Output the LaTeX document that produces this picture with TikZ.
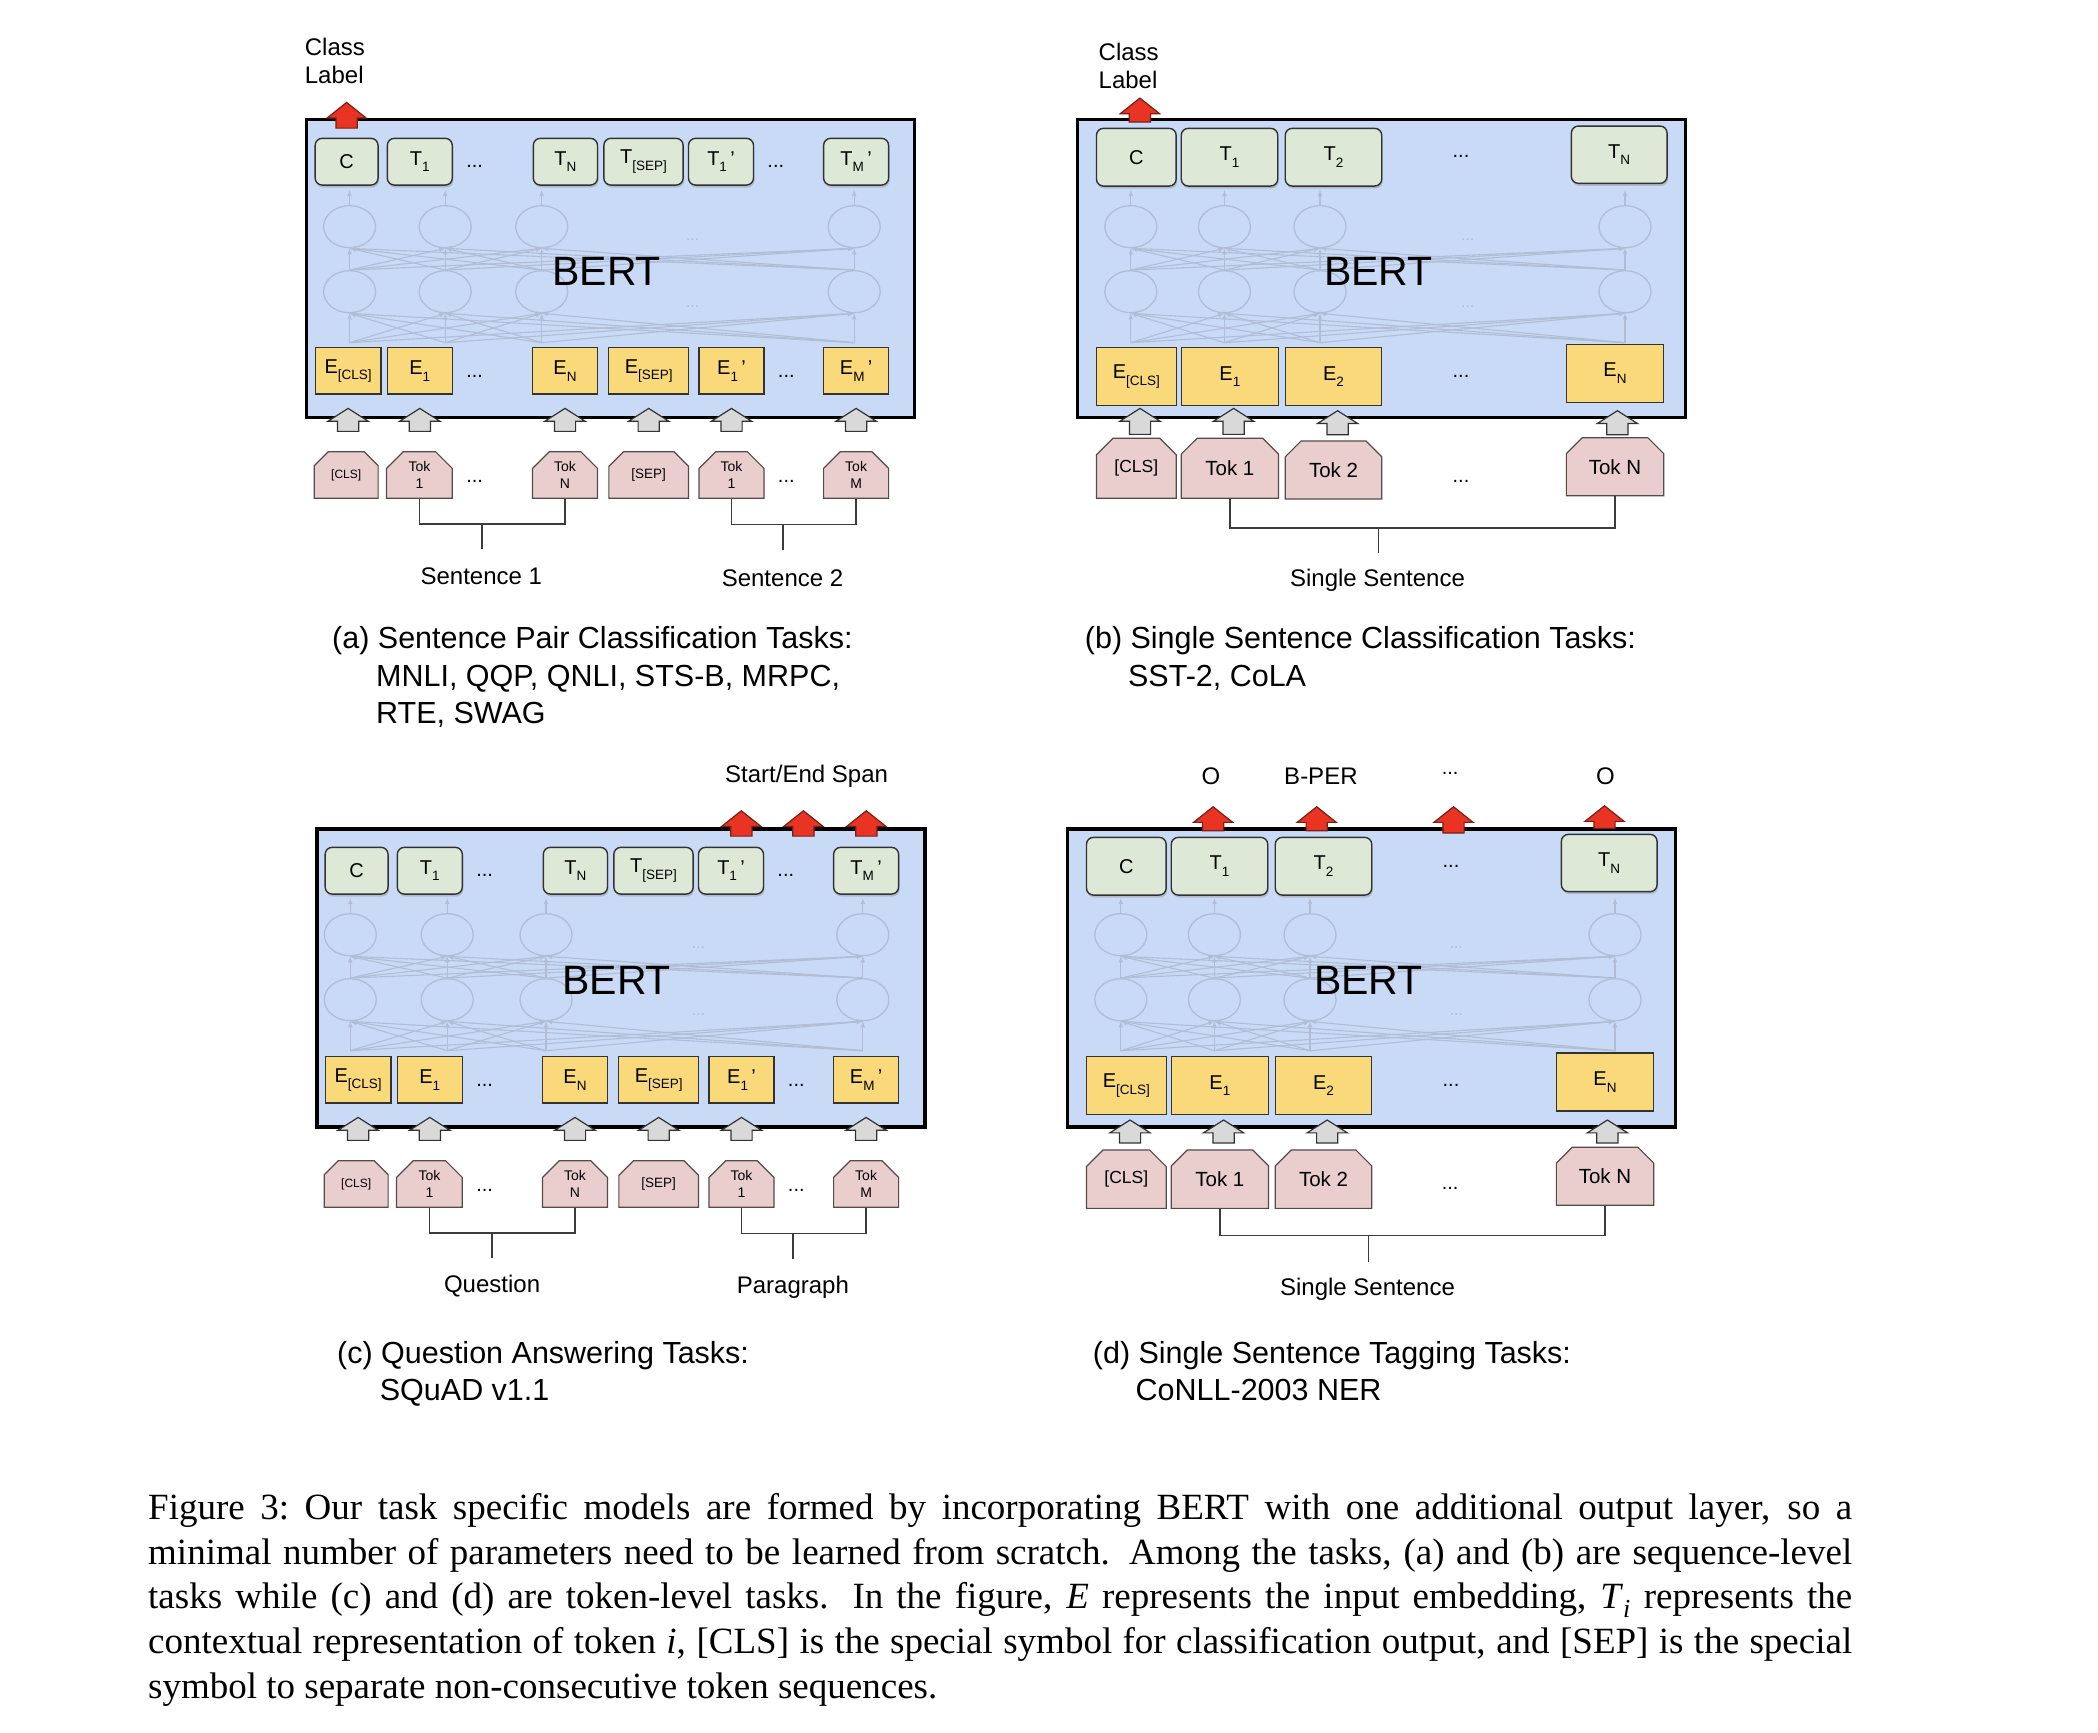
\documentclass[tikz,border=0pt]{standalone}
\usepackage{fontspec}
\setmainfont{Liberation Sans}
\newfontfamily\capfont{Liberation Serif}
\usetikzlibrary{shapes,shadows,arrows,backgrounds}
\definecolor{bertblue}{RGB}{201,218,246}
\definecolor{tgreen}{RGB}{221,232,214}
\definecolor{eyellow}{RGB}{249,217,121}
\definecolor{tokpink}{RGB}{234,206,206}
\definecolor{outred}{RGB}{233,52,36}
\definecolor{reddark}{RGB}{120,30,20}
\definecolor{ingray}{RGB}{217,217,217}
\definecolor{netgray}{RGB}{176,189,213}
\definecolor{boxedge}{RGB}{50,50,50}
\definecolor{tokedge}{RGB}{85,75,75}
\definecolor{brkgray}{RGB}{60,60,60}
\tikzstyle{bertbox}=[rectangle, draw=black, line width=3.5pt, fill=bertblue, minimum width=608pt, minimum height=298pt]
\tikzstyle{tbox}=[rectangle, rounded corners=7pt, draw=boxedge, line width=1.4pt, fill=tgreen, minimum height=46.7pt, inner sep=0pt, font=\fontsize{20}{24}\selectfont, drop shadow={opacity=0.35,shadow xshift=1pt,shadow yshift=-2.5pt}]
\tikzstyle{ebox}=[rectangle, draw=boxedge, line width=1.2pt, fill=eyellow, minimum height=46.3pt, inner sep=0pt, font=\fontsize{20}{24}\selectfont]
\tikzstyle{tok}=[chamfered rectangle, chamfered rectangle corners={north west,north east}, chamfered rectangle xsep=8.4pt, chamfered rectangle ysep=8.3pt, draw=tokedge, line width=1.2pt, fill=tokpink, minimum height=46.6pt, inner sep=0pt, align=center, font=\fontsize{14}{17}\selectfont]
\tikzstyle{tokb}=[tok, minimum height=58pt, font=\fontsize{20.5}{24}\selectfont]
\tikzstyle{inarrow}=[single arrow, draw=boxedge, line width=1.2pt, fill=ingray, rotate=90, inner sep=0pt, minimum size=0pt, single arrow head extend=9.6pt, single arrow tip angle=115, anchor=tip]
\tikzstyle{outarrow}=[single arrow, draw=reddark, line width=1.2pt, fill=outred, rotate=90, inner sep=0pt, minimum size=0pt, single arrow head extend=9pt, single arrow tip angle=103, anchor=tip]
\tikzstyle{hid}=[ellipse, draw=netgray, line width=1.3pt, minimum width=52pt, minimum height=42pt, inner sep=0pt]
\tikzstyle{net}=[draw=netgray, line width=1.1pt, -latex]
\tikzstyle{faint}=[text=netgray, font=\fontsize{16}{18}\selectfont, inner sep=0pt]
\tikzstyle{dotlbl}=[font=\fontsize{20}{24}\selectfont, inner sep=0pt]
\tikzstyle{lbl}=[font=\fontsize{24}{28.3}\selectfont, inner sep=0pt]
\tikzstyle{bert}=[font=\fontsize{41}{48}\selectfont, inner sep=0pt]
\tikzstyle{capline}=[font=\fontsize{30.5}{37}\selectfont, anchor=base west, inner sep=0pt]
\tikzstyle{brk}=[draw=brkgray, line width=1.6pt]
% invisible box that sets the length and width of an arrow shaft
\newcommand{\shaftlen}[1]{\phantom{\rule{#1}{20pt}}}
% low, small index as in the boxes
\newcommand{\lo}[1]{\raisebox{-6.5pt}{\fontsize{13.5}{14}\selectfont #1}}
% hidden layers: prefix, y shift, four columns, x of the faint dots
\newcommand{\bertnet}[7]{%
  \foreach \n/\x in {1/#3,2/#4,3/#5,4/#6}{
    \node[hid] (#1u\n) at (\x,226.7+#2){};
    \node[hid] (#1l\n) at (\x,291.7+#2){};
    \coordinate (#1b\n) at (\x,342.7+#2);
    \draw[net] (#1u\n.north) -- ++(0,-15);
  }
  \foreach \i in {1,...,4}{\foreach \j in {1,...,4}{
    \draw[net] (#1l\i.north) -- (#1u\j.south);
    \draw[net] (#1b\i) -- (#1l\j.south);
  }}
  \node[faint] (#1d1) at (#7,240+#2){...};
  \node[faint] (#1d2) at (#7,306.7+#2){...};
}
\begin{document}
\begin{tikzpicture}[x=1pt,y=-1pt]
\useasboundingbox (0,0) rectangle (2098,1732);
%background
\begin{scope}[on background layer]
\fill[white] (0,0) rectangle (2098,1732);
\node[bertbox] (bxa) at (610.5,268.5){};
\node[bertbox] (bxb) at (1381.7,268.5){};
\node[bertbox] (bxc) at (621,977.9){};
\node[bertbox] (bxd) at (1371.7,977.9){};
\end{scope}

%Panel (a)
\bertnet{ha}{0}{349.6}{445.2}{541.7}{854.2}{692.7}
\node[bert] (berta) at (606.7,271.7){BERT};
\node[tbox, minimum width=62.9pt] (tacls) at (346.6,161.7){C};
\node[tbox, minimum width=65pt] (ta1) at (419.8,161.7){T\lo{1}};
\node[dotlbl] (tad1) at (474.6,166.7){...};
\node[tbox, minimum width=64.2pt] (tan) at (565.4,161.7){T\lo{N}};
\node[tbox, minimum width=79.3pt] (tasep) at (643.5,161.7){T\lo{[SEP]}};
\node[tbox, minimum width=65pt] (tab1) at (721,161.7){T\lo{1}\,'};
\node[dotlbl] (tad2) at (775.8,166.7){...};
\node[tbox, minimum width=65pt] (tabm) at (856.1,161.7){T\lo{M}\,'};
\node[outarrow] (ara) at (346.6,101.7){\shaftlen{16pt}};
\node[lbl, anchor=west, align=left] (clsa) at (304.7,60.8){Class\\Label};
\node[ebox, minimum width=65.8pt] (eacls) at (348.1,370.9){E\lo{[CLS]}};
\node[ebox, minimum width=65pt] (ea1) at (419.8,370.9){E\lo{1}};
\node[dotlbl] (ead1) at (474.6,376){...};
\node[ebox, minimum width=65pt] (ean) at (565,370.9){E\lo{N}};
\node[ebox, minimum width=79.7pt] (easep) at (648.7,370.9){E\lo{[SEP]}};
\node[ebox, minimum width=65pt] (eab1) at (731.5,370.9){E\lo{1}\,'};
\node[dotlbl] (ead2) at (786.3,376){...};
\node[ebox, minimum width=65pt] (eabm) at (856.1,370.9){E\lo{M}\,'};
\node[inarrow] (gacls) at (348.1,407.7){\shaftlen{15pt}};
\node[inarrow] (ga1) at (419.8,407.7){\shaftlen{15pt}};
\node[inarrow] (gan) at (565,407.7){\shaftlen{15pt}};
\node[inarrow] (gasep) at (648.7,407.7){\shaftlen{15pt}};
\node[inarrow] (gab1) at (731.5,407.7){\shaftlen{15pt}};
\node[inarrow] (gabm) at (856.1,407.7){\shaftlen{15pt}};
\node[tok, minimum width=63.8pt, font=\fontsize{12}{14}\selectfont] (kacls) at (346.2,475){[CLS]};
\node[tok, minimum width=65.8pt] (ka1) at (419.4,475){Tok\\1};
\node[dotlbl] (kad1) at (474.6,481.7){...};
\node[tok, minimum width=65pt] (kan) at (565,475){Tok\\N};
\node[tok, minimum width=79.7pt, font=\fontsize{13.5}{16}\selectfont] (kasep) at (648.7,475){[SEP]};
\node[tok, minimum width=65pt] (kab1) at (731.5,475){Tok\\1};
\node[dotlbl] (kad2) at (786.3,481.7){...};
\node[tok, minimum width=65pt] (kabm) at (856.1,475){Tok\\M};
\draw[brk] (ka1.south) -- ++(0,25) -| (kan.south);
\draw[brk] (kab1.south) -- ++(0,25.7) -| (kabm.south);
\coordinate (sa1) at (482.1,523.3);
\coordinate (sa2) at (782.9,524);
\draw[brk] (sa1) -- ++(0,26);
\draw[brk] (sa2) -- ++(0,26.3);
\node[lbl] (senta1) at (481.3,576.7){Sentence 1};
\node[lbl] (senta2) at (782.5,578.3){Sentence 2};
\node[capline] (capa1) at (332,648.3){(a) Sentence Pair Classification Tasks:};
\node[capline] (capa2) at (376,686){MNLI, QQP, QNLI, STS-B, MRPC,};
\node[capline] (capa3) at (376,723.5){RTE, SWAG};

%Panel (b)
\bertnet{hb}{0}{1130.8}{1224.4}{1320}{1625}{1467.7}
\node[bert] (bertb) at (1378.3,271.7){BERT};
\node[tbox, minimum width=79.7pt, minimum height=57.7pt] (tbcls) at (1136.3,157.2){C};
\node[tbox, minimum width=96.5pt, minimum height=57.7pt] (tb1) at (1229.5,157.2){T\lo{1}};
\node[tbox, minimum width=96.5pt, minimum height=57.7pt] (tb2) at (1333.5,157.2){T\lo{2}};
\node[dotlbl] (tbd) at (1461,156.7){...};
\node[tbox, minimum width=95.7pt, minimum height=57.3pt] (tbn) at (1619.2,154.7){T\lo{N}};
\node[outarrow] (arb) at (1139.9,97.3){\shaftlen{14.3pt}};
\node[lbl, anchor=west, align=left] (clsb) at (1098.5,65.8){Class\\Label};
\node[ebox, minimum width=79.7pt, minimum height=58pt] (ebcls) at (1136.3,376.7){E\lo{[CLS]}};
\node[ebox, minimum width=97.3pt, minimum height=58pt] (eb1) at (1229.9,376.7){E\lo{1}};
\node[ebox, minimum width=96.5pt, minimum height=58pt] (eb2) at (1333.5,376.7){E\lo{2}};
\node[dotlbl] (ebd) at (1461,376){...};
\node[ebox, minimum width=97.3pt, minimum height=58pt] (ebn) at (1615,373.3){E\lo{N}};
\node[inarrow] (gbcls) at (1140,407.7){\shaftlen{18pt}};
\node[inarrow] (gb1) at (1233.6,407.7){\shaftlen{18pt}};
\node[inarrow] (gb2) at (1337.6,410){\shaftlen{16pt}};
\node[inarrow] (gbn) at (1617.4,410){\shaftlen{16pt}};
\node[tokb, minimum width=79.7pt, minimum height=60pt, font=\fontsize{17.5}{20}\selectfont] (kbcls) at (1136.3,468.3){[CLS]};
\node[tokb, minimum width=97.3pt, minimum height=60pt] (kb1) at (1229.9,468.3){Tok 1};
\node[tokb, minimum width=96.5pt] (kb2) at (1333.5,470){Tok 2};
\node[dotlbl] (kbd) at (1461,481.7){...};
\node[tokb, minimum width=97.3pt] (kbn) at (1615,466.7){Tok N};
\draw[brk] (kb1.south) -- ++(0,29) -| (kbn.south);
\coordinate (sb) at (1378.3,527.3);
\draw[brk] (sb) -- ++(0,25.4);
\node[lbl] (sentb) at (1377.5,580.3){Single Sentence};
\node[capline] (capb1) at (1084.7,648.3){(b) Single Sentence Classification Tasks:};
\node[capline] (capb2) at (1127.9,686){SST-2, CoLA};

%Panel (c)
\bertnet{hc}{708}{350.3}{447.2}{546}{862.8}{698.5}
\node[bert] (bertc) at (616.7,980.7){BERT};
\node[tbox, minimum width=62.9pt] (tccls) at (356.6,870.7){C};
\node[tbox, minimum width=65pt] (tc1) at (429.8,870.7){T\lo{1}};
\node[dotlbl] (tcd1) at (484.6,875.7){...};
\node[tbox, minimum width=64.2pt] (tcn) at (575.4,870.7){T\lo{N}};
\node[tbox, minimum width=79.3pt] (tcsep) at (653.5,870.7){T\lo{[SEP]}};
\node[tbox, minimum width=65pt] (tcb1) at (731,870.7){T\lo{1}\,'};
\node[dotlbl] (tcd2) at (785.8,875.7){...};
\node[tbox, minimum width=65pt] (tcbm) at (866.1,870.7){T\lo{M}\,'};
\node[outarrow] (arc1) at (741.3,810){\shaftlen{15.7pt}};
\node[outarrow] (arc2) at (803.4,810){\shaftlen{15.7pt}};
\node[outarrow] (arc3) at (866.3,810){\shaftlen{15.7pt}};
\node[lbl] (spanc) at (806.6,776.7){Start/End Span};
\node[ebox, minimum width=65.8pt] (eccls) at (358.1,1079.9){E\lo{[CLS]}};
\node[ebox, minimum width=65pt] (ec1) at (429.8,1079.9){E\lo{1}};
\node[dotlbl] (ecd1) at (484.6,1085){...};
\node[ebox, minimum width=65pt] (ecn) at (575,1079.9){E\lo{N}};
\node[ebox, minimum width=79.7pt] (ecsep) at (658.7,1079.9){E\lo{[SEP]}};
\node[ebox, minimum width=65pt] (ecb1) at (741.5,1079.9){E\lo{1}\,'};
\node[dotlbl] (ecd2) at (796.3,1085){...};
\node[ebox, minimum width=65pt] (ecbm) at (866.1,1079.9){E\lo{M}\,'};
\node[inarrow] (gccls) at (358.1,1116.7){\shaftlen{15pt}};
\node[inarrow] (gc1) at (429.8,1116.7){\shaftlen{15pt}};
\node[inarrow] (gcn) at (575,1116.7){\shaftlen{15pt}};
\node[inarrow] (gcsep) at (658.7,1116.7){\shaftlen{15pt}};
\node[inarrow] (gcb1) at (741.5,1116.7){\shaftlen{15pt}};
\node[inarrow] (gcbm) at (866.1,1116.7){\shaftlen{15pt}};
\node[tok, minimum width=63.8pt, font=\fontsize{12}{14}\selectfont] (kccls) at (356.2,1184){[CLS]};
\node[tok, minimum width=65.8pt] (kc1) at (429.4,1184){Tok\\1};
\node[dotlbl] (kcd1) at (484.6,1190.7){...};
\node[tok, minimum width=65pt] (kcn) at (575,1184){Tok\\N};
\node[tok, minimum width=79.7pt, font=\fontsize{13.5}{16}\selectfont] (kcsep) at (658.7,1184){[SEP]};
\node[tok, minimum width=65pt] (kcb1) at (741.5,1184){Tok\\1};
\node[dotlbl] (kcd2) at (796.3,1190.7){...};
\node[tok, minimum width=65pt] (kcbm) at (866.1,1184){Tok\\M};
\draw[brk] (kc1.south) -- ++(0,25) -| (kcn.south);
\draw[brk] (kcb1.south) -- ++(0,25.7) -| (kcbm.south);
\coordinate (sc1) at (492.1,1232.3);
\coordinate (sc2) at (792.9,1233);
\draw[brk] (sc1) -- ++(0,26);
\draw[brk] (sc2) -- ++(0,26.3);
\node[lbl] (sentc1) at (492.1,1286){Question};
\node[lbl] (sentc2) at (792.9,1287.5){Paragraph};
\node[capline] (capc1) at (336.9,1363.3){(c) Question Answering Tasks:};
\node[capline] (capc2) at (379.7,1400.5){SQuAD v1.1};

%Panel (d)
\bertnet{hd}{708}{1120.8}{1214.4}{1310}{1615}{1456.4}
\node[bert] (bertd) at (1368.3,980.7){BERT};
\node[tbox, minimum width=79.7pt, minimum height=57.7pt] (tdcls) at (1126.3,866.2){C};
\node[tbox, minimum width=96.5pt, minimum height=57.7pt] (td1) at (1219.5,866.2){T\lo{1}};
\node[tbox, minimum width=96.5pt, minimum height=57.7pt] (td2) at (1323.5,866.2){T\lo{2}};
\node[dotlbl] (tdd) at (1451,866){...};
\node[tbox, minimum width=95.7pt, minimum height=57.3pt] (tdn) at (1609.2,863){T\lo{N}};
\node[outarrow] (ard1) at (1213.1,806){\shaftlen{14.3pt}};
\node[outarrow] (ard2) at (1316.7,806){\shaftlen{14.3pt}};
\node[outarrow] (ard3) at (1453.5,806){\shaftlen{16.6pt}};
\node[outarrow] (ard4) at (1604.5,805){\shaftlen{13pt}};
\node[lbl] (tagd1) at (1211,776.7){O};
\node[lbl] (tagd2) at (1320.9,776.7){B-PER};
\node[dotlbl] (tagd3) at (1450.1,773.3){...};
\node[lbl] (tagd4) at (1605.4,776.7){O};
\node[ebox, minimum width=79.7pt, minimum height=58pt] (edcls) at (1126.3,1085.4){E\lo{[CLS]}};
\node[ebox, minimum width=97.3pt, minimum height=58pt] (ed1) at (1219.9,1085.4){E\lo{1}};
\node[ebox, minimum width=96.5pt, minimum height=58pt] (ed2) at (1323.5,1085.4){E\lo{2}};
\node[dotlbl] (edd) at (1451,1085){...};
\node[ebox, minimum width=97.3pt, minimum height=58pt] (edn) at (1605,1082){E\lo{N}};
\node[inarrow] (gdcls) at (1130,1119.3){\shaftlen{15pt}};
\node[inarrow] (gd1) at (1223.6,1119.3){\shaftlen{15pt}};
\node[inarrow] (gd2) at (1327.2,1119.3){\shaftlen{15pt}};
\node[inarrow] (gdn) at (1607.4,1119.3){\shaftlen{15pt}};
\node[tokb, minimum width=79.7pt, minimum height=58.3pt, font=\fontsize{17.5}{20}\selectfont] (kdcls) at (1126.3,1179.2){[CLS]};
\node[tokb, minimum width=97.3pt, minimum height=58.3pt] (kd1) at (1219.9,1179.2){Tok 1};
\node[tokb, minimum width=96.5pt, minimum height=58.3pt] (kd2) at (1323.5,1179.2){Tok 2};
\node[dotlbl] (kdd) at (1450.1,1188.3){...};
\node[tokb, minimum width=97.3pt] (kdn) at (1605,1176.2){Tok N};
\draw[brk] (kd1.south) -- ++(0,26.6) -| (kdn.south);
\coordinate (sd) at (1368.3,1235);
\draw[brk] (sd) -- ++(0,26.7);
\node[lbl] (sentd) at (1367.5,1289.5){Single Sentence};
\node[capline] (capd1) at (1092.7,1363.3){(d) Single Sentence Tagging Tasks:};
\node[capline] (capd2) at (1135.5,1400.5){CoNLL-2003 NER};

%Figure caption
\node[anchor=north west, text width=1704pt, align=justify, inner sep=0pt, font=\capfont\fontsize{37}{44.8}\selectfont] (figcap) at (148,1493){\tolerance=9999 Figure 3:\ Our task specific models are formed by incorporating BERT with one additional output layer, so a\linebreak minimal number of parameters need to be learned from scratch. Among the tasks, (a) and (b) are sequence-level\linebreak tasks while (c) and (d) are token-level tasks. In the figure, \textit{E} represents the input embedding, \textit{T}\textsubscript{\textit{i}} represents the\linebreak contextual representation of token \textit{i}, [CLS] is the special symbol for classification output, and [SEP] is the special\linebreak symbol to separate non-consecutive token sequences.};
\end{tikzpicture}
\end{document}
